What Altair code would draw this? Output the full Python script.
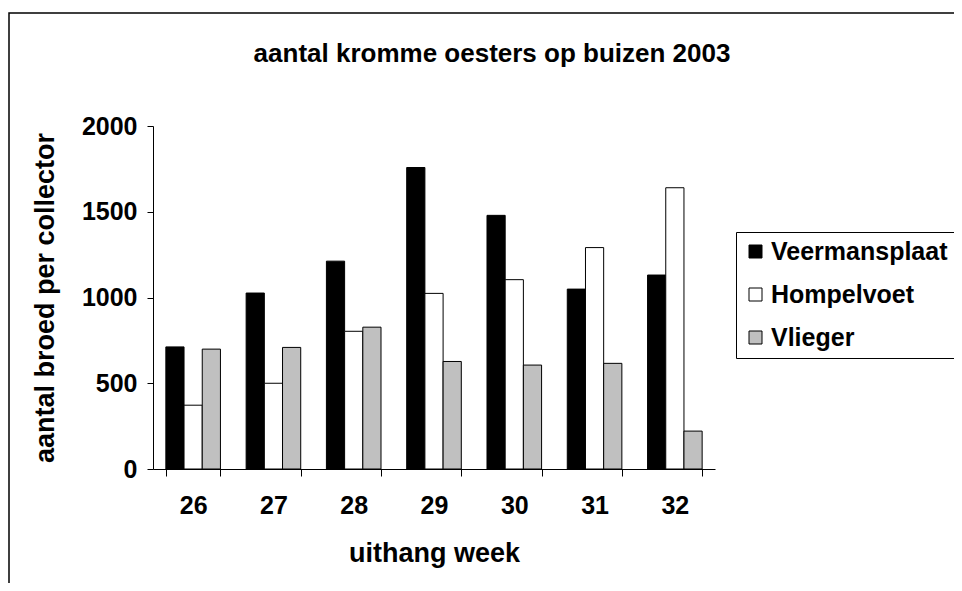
import altair as alt
import pandas as pd

weeks = ["26", "27", "28", "29", "30", "31", "32"]
series = ["Veermansplaat", "Hompelvoet", "Vlieger"]
veermansplaat = [712, 1026, 1212, 1758, 1479, 1049, 1131]
hompelvoet = [372, 500, 803, 1024, 1104, 1291, 1640]
vlieger = [699, 709, 827, 627, 606, 616, 221]
colors = ["#000000", "#FFFFFF", "#C0C0C0"]
y_ticks = [0, 500, 1000, 1500, 2000]

rows = []
for s, vals in zip(series, [veermansplaat, hompelvoet, vlieger]):
    for w, v in zip(weeks, vals):
        rows.append({"week": w, "serie": s, "aantal": v})
df = pd.DataFrame(rows)

W, H = 562, 343
PL, PT, PR, PB = 145, 118, 239, 114
FONT = "Liberation Sans"

bars = alt.Chart(df).mark_bar(stroke="black", strokeWidth=1).encode(
    x=alt.X(
        "week:N", sort=weeks,
        scale=alt.Scale(paddingInner=0.32, paddingOuter=0.16),
        axis=alt.Axis(
            title="uithang week", labelAngle=0, tickBand="extent",
            labelFontSize=25, labelFontWeight="bold", labelColor="black", labelFont=FONT,
            titleFontSize=27, titleFontWeight="bold", titleColor="black", titleFont=FONT,
            domainColor="black", tickColor="black", tickSize=7,
            labelPadding=17, titlePadding=22, grid=False,
        ),
    ),
    xOffset=alt.XOffset("serie:N", sort=series, scale=alt.Scale(paddingInner=0, paddingOuter=0)),
    y=alt.Y(
        "aantal:Q",
        scale=alt.Scale(domain=[0, 2000], nice=False),
        axis=alt.Axis(
            title="aantal broed per collector", values=y_ticks, format="d", grid=False,
            labelFontSize=25, labelFontWeight="bold", labelColor="black", labelFont=FONT,
            titleFontSize=27, titleFontWeight="bold", titleColor="black", titleFont=FONT,
            domainColor="black", tickColor="black", tickSize=6,
            labelPadding=10, titlePadding=22,
        ),
    ),
    color=alt.Color(
        "serie:N", sort=series,
        scale=alt.Scale(domain=series, range=colors),
        legend=alt.Legend(
            title=None, orient="none", legendX=583, legendY=106,
            symbolType="square", symbolSize=169, symbolStrokeColor="black",
            symbolStrokeWidth=1,
            labelFontSize=25, labelFontWeight="bold", labelColor="black", labelFont=FONT,
            strokeColor="black", fillColor="white", padding=7, rowPadding=17,
            labelOffset=3, labelLimit=400,
        ),
    ),
)

frame = alt.Chart(pd.DataFrame({"f": [0]})).mark_rect(
    fillOpacity=0, stroke="black", strokeWidth=1.5
).encode(
    x=alt.value(-PL + 1),
    x2=alt.value(W + PR + 30),
    y=alt.value(-(PT - 5)),
    y2=alt.value(H + PB + 30),
)

chart = alt.layer(frame, bars).properties(
    width=W, height=H,
    autosize="none",
    padding={"left": PL, "top": PT, "right": PR, "bottom": PB},
    title=alt.TitleParams(
        "aantal kromme oesters op buizen 2003", fontSize=26, fontWeight="bold",
        font=FONT, color="black", anchor="middle", dx=58, offset=-76,
        baseline="alphabetic",
    ),
).configure(background="white").configure_view(stroke="transparent", strokeWidth=0)

chart.save("out.html", embed_options={"renderer": "svg", "actions": False})
